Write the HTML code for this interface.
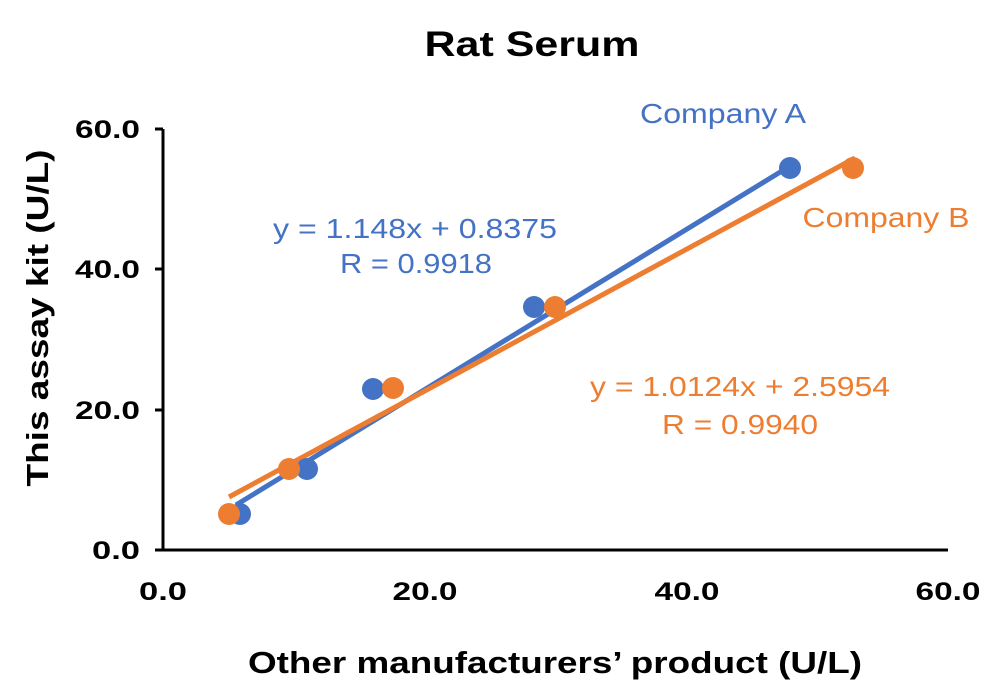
<!DOCTYPE html>
<html><head><style>
body{margin:0;background:#fff;}
svg{display:block;font-family:"Liberation Sans",sans-serif;}
</style></head><body>
<svg width="1000" height="700" viewBox="0 0 1000 700">
<text x="532" y="56" text-anchor="middle" font-size="35" font-weight="bold" fill="#000" textLength="215" lengthAdjust="spacingAndGlyphs">Rat Serum</text>
<g stroke="#000" stroke-width="3">
<line x1="163" y1="129" x2="163" y2="551"/>
<line x1="162" y1="550" x2="948" y2="550"/>
<line x1="155" y1="129" x2="163" y2="129"/>
<line x1="155" y1="269" x2="163" y2="269"/>
<line x1="155" y1="410" x2="163" y2="410"/>
<line x1="155" y1="550" x2="163" y2="550"/>
</g>
<g font-size="25" font-weight="bold" fill="#000" text-anchor="end">
<text x="140" y="138" textLength="65" lengthAdjust="spacingAndGlyphs">60.0</text>
<text x="140" y="278" textLength="65" lengthAdjust="spacingAndGlyphs">40.0</text>
<text x="140" y="419" textLength="65" lengthAdjust="spacingAndGlyphs">20.0</text>
<text x="140" y="559" textLength="48" lengthAdjust="spacingAndGlyphs">0.0</text>
</g>
<g font-size="25" font-weight="bold" fill="#000" text-anchor="middle">
<text x="163" y="600" textLength="48" lengthAdjust="spacingAndGlyphs">0.0</text>
<text x="425" y="600" textLength="65" lengthAdjust="spacingAndGlyphs">20.0</text>
<text x="687" y="600" textLength="65" lengthAdjust="spacingAndGlyphs">40.0</text>
<text x="948" y="600" textLength="65" lengthAdjust="spacingAndGlyphs">60.0</text>
</g>
<text x="555" y="673" text-anchor="middle" font-size="31" font-weight="bold" textLength="614" lengthAdjust="spacingAndGlyphs">Other manufacturers’ product (U/L)</text>
<text transform="translate(48,318) rotate(-90)" text-anchor="middle" font-size="31" font-weight="bold" textLength="337" lengthAdjust="spacingAndGlyphs">This assay kit (U/L)</text>
<line x1="236" y1="505" x2="795" y2="163" stroke="#4472C4" stroke-width="5"/>
<line x1="229" y1="497" x2="855" y2="158" stroke="#ED7D31" stroke-width="5"/>
<g fill="#4472C4">
<circle cx="240" cy="514" r="11"/><circle cx="307" cy="469" r="11"/><circle cx="373" cy="389" r="11"/><circle cx="534" cy="307" r="11"/><circle cx="790" cy="168" r="11"/>
</g>
<g fill="#ED7D31">
<circle cx="229" cy="514" r="11"/><circle cx="289" cy="469" r="11"/><circle cx="393" cy="388" r="11"/><circle cx="555" cy="307" r="11"/><circle cx="853" cy="168" r="11"/>
</g>
<g font-size="28" fill="#4472C4" text-anchor="middle">
<text x="723" y="123" textLength="166" lengthAdjust="spacingAndGlyphs">Company A</text>
<text x="415" y="238" textLength="284" lengthAdjust="spacingAndGlyphs">y = 1.148x + 0.8375</text>
<text x="416" y="273" textLength="152" lengthAdjust="spacingAndGlyphs">R = 0.9918</text>
</g>
<g font-size="28" fill="#ED7D31" text-anchor="middle">
<text x="886" y="227" textLength="167" lengthAdjust="spacingAndGlyphs">Company B</text>
<text x="740" y="396" textLength="300" lengthAdjust="spacingAndGlyphs">y = 1.0124x + 2.5954</text>
<text x="740" y="434" textLength="156" lengthAdjust="spacingAndGlyphs">R = 0.9940</text>
</g>
</svg>
</body></html>
